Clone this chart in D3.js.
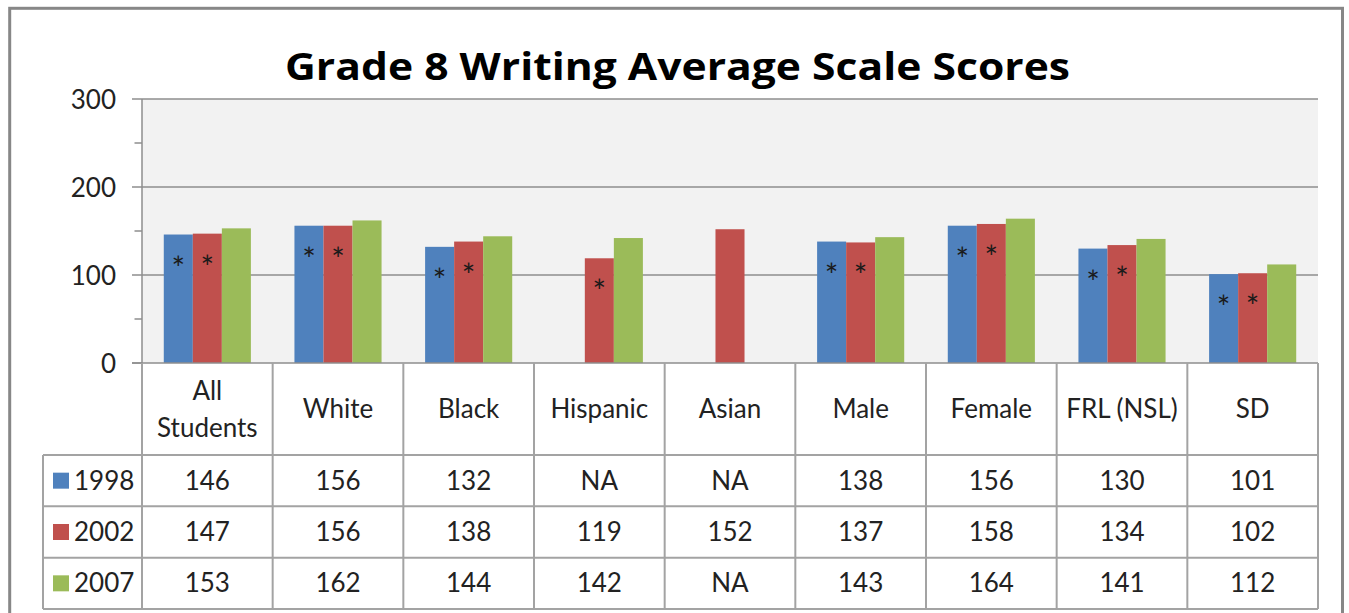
<!DOCTYPE html>
<html>
<head>
<meta charset="utf-8">
<script src="https://cdn.jsdelivr.net/npm/d3@7"></script>
<style>
  body { margin: 0; background: #fff; }
  svg { display: block; font-family: Lato, "Open Sans", sans-serif; }
</style>
</head>
<body>
<svg width="1349" height="613"></svg>
<script>
// chart data
const categories = ["All\nStudents", "White", "Black", "Hispanic", "Asian", "Male", "Female", "FRL (NSL)", "SD"];
const years = ["1998", "2002", "2007"];
const scores1998 = [146, 156, 132, null, null, 138, 156, 130, 101];
const scores2002 = [147, 156, 138, 119, 152, 137, 158, 134, 102];
const scores2007 = [153, 162, 144, 142, null, 143, 164, 141, 112];
// asterisk = significant difference from 2007
const signif1998 = [true, true, true, false, false, true, true, true, true];
const signif2002 = [true, true, true, true, false, true, true, true, true];
const signif2007 = [false, false, false, false, false, false, false, false, false];
const yTicks = [0, 100, 200, 300];
const yMinorTicks = [50, 150, 250];
const seriesColors = ["#4f81bd", "#c0504d", "#9bbb59"];

const scores = [scores1998, scores2002, scores2007];
const signif = [signif1998, signif2002, signif2007];

const svg = d3.select("svg");

// frame
svg.append("rect")
  .attr("x", 9.7).attr("y", 8.3)
  .attr("width", 1332.8).attr("height", 700)
  .attr("fill", "#fff")
  .attr("stroke", "#878787")
  .attr("stroke-width", 3);

const plotLeft = 142, plotRight = 1318, plotTop = 99, plotBottom = 363;

var x0 = d3.scaleBand().domain(d3.range(categories.length)).range([plotLeft, plotRight]);
var x1 = d3.scaleBand().domain(years).range([0, x0.bandwidth()]).paddingOuter(0.75);
var y = d3.scaleLinear().domain([0, 300]).range([plotBottom, plotTop]);

// title
svg.append("text")
  .attr("x", 677.5)
  .attr("y", 80)
  .attr("text-anchor", "middle")
  .attr("textLength", 785)
  .attr("lengthAdjust", "spacingAndGlyphs")
  .style("font-family", "'Open Sans', sans-serif")
  .style("font-weight", "bold")
  .style("font-size", "38px")
  .style("fill", "#000")
  .text("Grade 8 Writing Average Scale Scores");

// plot background
svg.append("rect")
  .attr("x", plotLeft).attr("y", plotTop)
  .attr("width", plotRight - plotLeft).attr("height", plotBottom - plotTop)
  .attr("fill", "#f2f2f2");

// gridlines
svg.append("g")
  .selectAll("line")
  .data(yTicks.filter(d => d > 0))
  .enter()
  .append("line")
  .attr("x1", plotLeft).attr("x2", plotRight)
  .attr("y1", d => y(d)).attr("y2", d => y(d))
  .attr("stroke", "#8e8e8e")
  .attr("stroke-width", 1.5);

// y axis
svg.append("line")
  .attr("x1", plotLeft).attr("x2", plotLeft)
  .attr("y1", plotTop).attr("y2", plotBottom)
  .attr("stroke", "#8e8e8e").attr("stroke-width", 1.5);

svg.append("g")
  .selectAll("line")
  .data(yTicks)
  .enter()
  .append("line")
  .attr("x1", plotLeft - 10).attr("x2", plotLeft)
  .attr("y1", d => y(d)).attr("y2", d => y(d))
  .attr("stroke", "#8e8e8e").attr("stroke-width", 1.5);

svg.append("g")
  .selectAll("line")
  .data(yMinorTicks)
  .enter()
  .append("line")
  .attr("x1", plotLeft - 7.5).attr("x2", plotLeft)
  .attr("y1", d => y(d)).attr("y2", d => y(d))
  .attr("stroke", "#8e8e8e").attr("stroke-width", 1.5);

svg.append("g")
  .selectAll("text")
  .data(yTicks)
  .enter()
  .append("text")
  .attr("x", 116)
  .attr("y", d => y(d) + 9.5)
  .attr("text-anchor", "end")
  .style("font-size", "26px")
  .style("fill", "#222")
  .text(d => d);

// bars
const barData = [];
scores.forEach((s, si) => {
  s.forEach((v, ci) => {
    if (v != null) barData.push({ ci: ci, year: years[si], si: si, value: v, star: signif[si][ci] });
  });
});

svg.append("g")
  .selectAll("rect")
  .data(barData)
  .enter()
  .append("rect")
  .attr("x", d => x0(d.ci) + x1(d.year))
  .attr("y", d => y(d.value))
  .attr("width", x1.bandwidth())
  .attr("height", d => y(0) - y(d.value))
  .attr("fill", d => seriesColors[d.si]);

svg.append("g")
  .selectAll("text")
  .data(barData.filter(d => d.star))
  .enter()
  .append("text")
  .attr("x", d => x0(d.ci) + x1(d.year) + x1.bandwidth() / 2)
  .attr("y", d => y(d.value) + 45)
  .attr("text-anchor", "middle")
  .style("font-size", "32px")
  .style("fill", "#1a1a1a")
  .text("*");

// data table
const headerBottom = 455, tableBottom = 609, legendLeft = 43;
var rowY = d3.scaleBand().domain(years).range([headerBottom, tableBottom]);
const gridColor = "#a3a3a3";

const table = svg.append("g");

// horizontal lines
table.append("line")
  .attr("x1", plotLeft - 10).attr("x2", plotRight)
  .attr("y1", plotBottom).attr("y2", plotBottom)
  .attr("stroke", "#8e8e8e").attr("stroke-width", 1.5);

table.selectAll("hline")
  .data([headerBottom].concat(years.map(yr => rowY(yr) + rowY.bandwidth())))
  .enter()
  .append("line")
  .attr("x1", legendLeft).attr("x2", plotRight)
  .attr("y1", d => d).attr("y2", d => d)
  .attr("stroke", gridColor).attr("stroke-width", 2);

// vertical lines
table.selectAll("vline")
  .data(d3.range(categories.length + 1))
  .enter()
  .append("line")
  .attr("x1", i => i < categories.length ? x0(i) : plotRight)
  .attr("x2", i => i < categories.length ? x0(i) : plotRight)
  .attr("y1", plotBottom).attr("y2", tableBottom)
  .attr("stroke", gridColor).attr("stroke-width", 2);

table.append("line")
  .attr("x1", legendLeft).attr("x2", legendLeft)
  .attr("y1", headerBottom).attr("y2", tableBottom)
  .attr("stroke", gridColor).attr("stroke-width", 2);

// category header labels
const headers = table.selectAll("header")
  .data(categories)
  .enter()
  .append("text")
  .attr("text-anchor", "middle")
  .style("font-size", "26px")
  .style("fill", "#222");

headers.each(function (d, i) {
  const lines = d.split("\n");
  const cx = x0(i) + x0.bandwidth() / 2;
  const midY = (plotBottom + headerBottom) / 2;
  lines.forEach((ln, k) => {
    d3.select(this).append("tspan")
      .attr("x", cx)
      .attr("y", midY + 9 + (k - (lines.length - 1) / 2) * 37)
      .text(ln);
  });
});

// legend keys
table.selectAll("key")
  .data(years)
  .enter()
  .append("rect")
  .attr("x", 53)
  .attr("y", d => rowY(d) + rowY.bandwidth() / 2 - 8)
  .attr("width", 16).attr("height", 16)
  .attr("fill", (d, i) => seriesColors[i]);

table.selectAll("keyLabel")
  .data(years)
  .enter()
  .append("text")
  .attr("x", 74)
  .attr("y", d => rowY(d) + rowY.bandwidth() / 2 + 9)
  .style("font-size", "26px")
  .style("fill", "#222")
  .text(d => d);

// cell values
const cells = [];
scores.forEach((s, si) => {
  s.forEach((v, ci) => cells.push({ ci: ci, year: years[si], value: v }));
});

table.selectAll("cell")
  .data(cells)
  .enter()
  .append("text")
  .attr("x", d => x0(d.ci) + x0.bandwidth() / 2)
  .attr("y", d => rowY(d.year) + rowY.bandwidth() / 2 + 9)
  .attr("text-anchor", "middle")
  .style("font-size", "26px")
  .style("fill", "#222")
  .text(d => d.value == null ? "NA" : d.value);
</script>
</body>
</html>
